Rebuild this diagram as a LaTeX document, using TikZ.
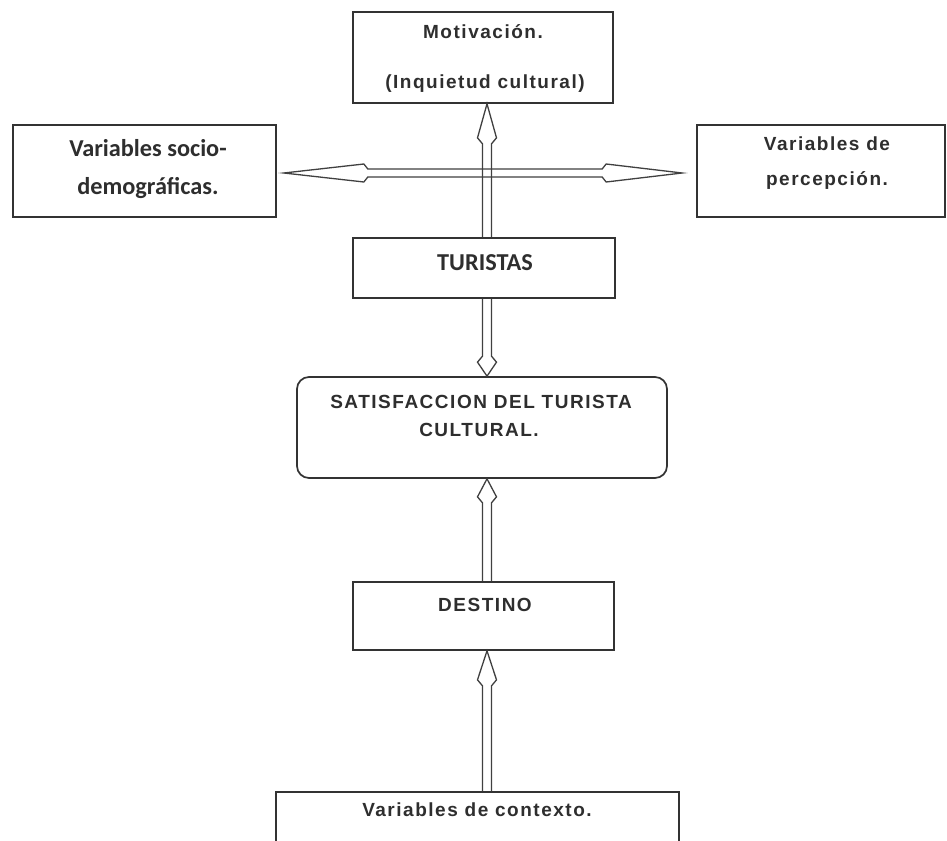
\documentclass[tikz,border=0pt]{standalone}
\usepackage{fontspec}
\setmainfont{Liberation Sans}
\newfontfamily\arsp[LetterSpace=8]{Liberation Sans}
\newfontfamily\calib{Carlito}
\usetikzlibrary{calc}
\tikzset{
  boxn/.style={draw=black!80, line width=1.7pt, fill=white, inner sep=0pt},
  arr/.style={draw=black!75, line width=1.3pt, line join=miter},
  txa/.style={anchor=base, inner sep=0pt, text=black!82, font=\arsp\bfseries\fontsize{19}{22}\selectfont},
  txc/.style={anchor=base, inner sep=0pt, text=black!82, font=\calib\bfseries\fontsize{24.3}{27}\selectfont},
}
% vertical block arrow: #1 from anchor, #2 to anchor (tip), #3 head length, #4 sign (1 up, -1 down)
\newcommand{\vblk}[4]{%
  \draw[arr] let \p0=(ax), \p1=(#1), \p2=(#2) in
    (\x0-4.5pt,\y1) -- (\x0-4.5pt,\y2-#4*#3pt) -- (\x0-9.5pt,\y2-#4*#3pt+#4*6pt)
    -- (\x0,\y2) -- (\x0+9.5pt,\y2-#4*#3pt+#4*6pt) -- (\x0+4.5pt,\y2-#4*#3pt) -- (\x0+4.5pt,\y1);}
\begin{document}
\begin{tikzpicture}[x=1pt,y=-1pt]
\clip (0,0) rectangle (947,840);
\fill[white] (0,0) rectangle (947,840);
\coordinate (ax) at (487,0);
% boxes
\node[boxn, minimum width=260pt, minimum height=91pt] (mot) at (483,57.5) {};
\node[boxn, minimum width=263pt, minimum height=92pt] (soc) at (144.5,171) {};
\node[boxn, minimum width=248pt, minimum height=92pt] (per) at (821,171) {};
\node[boxn, minimum width=262pt, minimum height=60pt] (tur) at (484,268) {};
\node[boxn, minimum width=370pt, minimum height=101pt, rounded corners=12pt] (sat) at (482,427.5) {};
\node[boxn, minimum width=261pt, minimum height=68pt] (des) at (483.5,616) {};
\node[boxn, minimum width=403pt, minimum height=90pt] (ctx) at (477.5,837) {};
% texts
\node[txa] (mot1) at (483,39) {Motivación.};
\node[txa] (mot2) at (485,89) {(Inquietud cultural)};
\node[txc] (soc1) at (148,157) {Variables socio-};
\node[txc] (soc2) at (148,194) {demográficas.};
\node[txa] (per1) at (827,150) {Variables de};
\node[txa] (per2) at (827,185) {percepción.};
\node[txc] (tur1) at (485,270) {TURISTAS};
\node[txa] (sat1) at (481,408) {SATISFACCION DEL TURISTA};
\node[txa] (sat2) at (479,436.5) {CULTURAL.};
\node[txa] (des1) at (485,611) {DESTINO};
\node[txa] (ctx1) at (477,816.5) {Variables de contexto.};
% horizontal double block arrow
\draw[arr] let \p1=(soc.east), \p2=(per.west) in
  (\x1+7pt,\y1-2pt) -- (\x1+87pt,\y1-2pt+9pt) -- (\x1+91pt,\y1-2pt+4pt)
  -- (\x2-94pt,\y1-2pt+4pt) -- (\x2-90pt,\y1-2pt+9pt) -- (\x2-14pt,\y1-2pt)
  -- (\x2-90pt,\y1-2pt-9pt) -- (\x2-94pt,\y1-2pt-4pt)
  -- (\x1+91pt,\y1-2pt-4pt) -- (\x1+87pt,\y1-2pt-9pt) -- cycle;
% vertical block arrows
\vblk{tur.north}{mot.south}{40}{1}
\vblk{tur.south}{sat.north}{20}{-1}
\vblk{des.north}{sat.south}{24}{1}
\vblk{ctx.north}{des.south}{35}{1}
\end{tikzpicture}
\end{document}
